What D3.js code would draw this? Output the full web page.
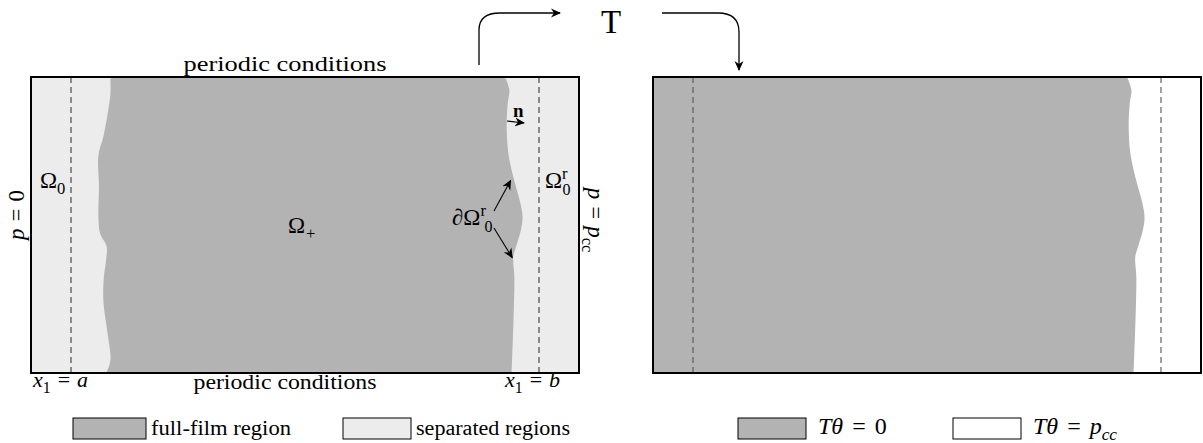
<!DOCTYPE html>
<html lang="en">
<head>
    <meta charset="UTF-8">
    <title>Full-film and separated regions</title>
    <style>
        body { margin: 0; background: #fff; }
        text { font-family: "Liberation Serif", "DejaVu Serif", serif; fill: #000; }
    </style>
</head>
<body>
    <script src="https://d3js.org/d3.v7.min.js"></script>
    <script>
        // Interface curves in panel units (x: 0 = left edge, 1 = right edge; y: 0 = top, 1 = bottom)
        const leftEdgeY  = [0, 0.055, 0.111, 0.202, 0.264, 0.371, 0.472, 0.528, 0.573, 0.618, 0.675, 0.753, 0.844, 0.922, 0.956, 0.996, 1];
        const leftEdgeX  = [0.145, 0.145, 0.141, 0.132, 0.123, 0.124, 0.123, 0.126, 0.138, 0.137, 0.133, 0.132, 0.138, 0.144, 0.145, 0.138, 0.135];
        const rightEdgeY = [0, 0.044, 0.088, 0.166, 0.257, 0.314, 0.358, 0.426, 0.473, 0.517, 0.574, 0.608, 0.676, 0.787, 0.899, 1];
        const rightEdgeX = [0.865, 0.873, 0.870, 0.868, 0.871, 0.877, 0.883, 0.893, 0.897, 0.894, 0.885, 0.880, 0.882, 0.881, 0.879, 0.877];
        const dashedX = [0.073, 0.927];   // x1 = a, x1 = b

        const width = 1203,
            height = 443,
            panelW = 548,
            panelH = 296,
            panelTop = 77,
            panelLeft = [31, 653],
            dark = "#b3b3b3",
            light = "#ececec";

        const x = d3.scaleLinear().domain([0, 1]).range([0, panelW]);
        const y = d3.scaleLinear().domain([0, 1]).range([0, panelH]);

        const leftPts = leftEdgeY.map((v, i) => [leftEdgeX[i], v]);
        const rightPts = rightEdgeY.map((v, i) => [rightEdgeX[i], v]);

        const edge = d3.line()
            .x(d => x(d[0]))
            .y(d => y(d[1]))
            .curve(d3.curveCatmullRom.alpha(0.5));

        // closed shape between two curves, built from two line strings
        function region(leftSide, rightSide) {
            const a = edge(leftSide);
            const b = edge(rightSide.slice().reverse());
            return a + "L" + b.slice(1) + "Z";
        }

        const svg = d3.select("body").append("svg")
            .attr("width", width)
            .attr("height", height);

        const defs = svg.append("defs");
        defs.append("marker")
            .attr("id", "head")
            .attr("viewBox", "0 -5 10 10")
            .attr("refX", 9)
            .attr("refY", 0)
            .attr("markerWidth", 10)
            .attr("markerHeight", 10)
            .attr("markerUnits", "userSpaceOnUse")
            .attr("orient", "auto")
            .append("path")
            .attr("d", "M0,-4.5L10,0L0,4.5L3,0Z")
            .attr("fill", "#000");

        function panel(i) {
            const g = svg.append("g").attr("transform", `translate(${panelLeft[i]},${panelTop})`);
            g.append("rect")
                .attr("width", x(1)).attr("height", y(1))
                .attr("fill", i === 0 ? light : "#fff");
            const lhs = i === 0 ? leftPts : [[0, 0], [0, 1]];
            g.append("path")
                .attr("d", region(lhs, rightPts))
                .attr("fill", dark);
            g.selectAll(".dash")
                .data(dashedX)
                .enter().append("line")
                .attr("x1", d => x(d)).attr("x2", d => x(d))
                .attr("y1", y(0)).attr("y2", y(1))
                .attr("stroke", i === 0 ? "#3a3a3a" : "#555")
                .attr("stroke-width", 1.1)
                .attr("stroke-dasharray", "6,4");
            g.append("rect")
                .attr("width", x(1)).attr("height", y(1))
                .attr("fill", "none")
                .attr("stroke", "#000")
                .attr("stroke-width", 2);
            return g;
        }

        const gl = panel(0);
        const gr = panel(1);

        // plain text, stretched to the width it has in the figure
        function plain(g, px, py, str, size, len) {
            return g.append("text")
                .attr("x", px).attr("y", py)
                .attr("text-anchor", "middle")
                .attr("textLength", len)
                .attr("lengthAdjust", "spacingAndGlyphs")
                .style("font-size", size + "px")
                .text(str);
        }

        // math label helper: parts = [text, style, dx]
        // style: "i" italic, "r" roman, "b" bold, "sub"/"subi" subscript, "sup" superscript, "back" return to baseline
        function math(g, px, py, parts, size, anchor) {
            const t = g.append("text")
                .attr("x", px).attr("y", py)
                .style("font-size", size + "px")
                .attr("text-anchor", anchor || "start");
            parts.forEach(p => {
                const s = t.append("tspan").text(p[0]);
                const st = p[1];
                if (st.endsWith("i")) s.style("font-style", "italic");
                if (st === "b") s.style("font-weight", "bold");
                if (st.startsWith("sub")) s.attr("dy", size * 0.25).style("font-size", (size * 0.72) + "px");
                if (st === "sup") s.attr("dy", -size * 0.38).style("font-size", (size * 0.72) + "px");
                if (st.startsWith("back")) s.attr("dy", -size * 0.25);
                if (p[2]) s.attr("dx", p[2]);
            });
            return t;
        }

        // left panel labels
        plain(gl, 254, -6, "periodic conditions", 22, 203);
        plain(gl, 254, 312, "periodic conditions", 21, 183);
        math(gl, 2, 310, [["x", "i"], ["1", "sub"], ["=", "back", 7], ["a", "i", 7]], 22);
        math(gl, 474, 310, [["x", "i"], ["1", "sub"], ["=", "back", 7], ["b", "i", 7]], 22);
        math(gl, 9, 111, [["Ω", "r"], ["0", "sub"]], 23);
        math(gl, 514, 111, [["Ω", "r"], ["r", "sup"]], 23);
        math(gl, 257, 156, [["Ω", "r"], ["+", "sub", 1]], 23);
        math(gl, 421, 148, [["∂Ω", "r"], ["r", "sup"]], 23);
        math(gl, 482, 40, [["n", "b"]], 19);

        // subscript 0 under the r superscripts
        math(gl, 531.5, 118, [["0", "r"]], 16);
        math(gl, 453.5, 155, [["0", "r"]], 16);

        // side labels
        math(svg.append("g").attr("transform", "translate(24,215) rotate(-90)"), 0, 0,
            [["p", "i"], ["=", "r", 7], ["0", "r", 7]], 23, "middle");
        math(svg.append("g").attr("transform", "translate(588,220) rotate(90)"), 0, 0,
            [["p", "i"], ["=", "r", 7], ["p", "i", 7], ["cc", "sub"]], 23, "middle");

        // arrows inside the left panel
        const arrow = (g, x1, y1, x2, y2) => g.append("line")
            .attr("x1", x1).attr("y1", y1).attr("x2", x2).attr("y2", y2)
            .attr("stroke", "#000").attr("stroke-width", 1.1)
            .attr("marker-end", "url(#head)");
        arrow(gl, 476, 44, 493, 46);
        arrow(gl, 463, 134, x(rightEdgeX[5]) - 1, y(0.35));
        arrow(gl, 463, 151, x(rightEdgeX[11]) - 1, y(0.61));

        // transformation arrows
        svg.append("path")
            .attr("d", "M479,65 L479,30 Q479,13 500,13 L560,13")
            .attr("fill", "none").attr("stroke", "#000").attr("stroke-width", 1.3)
            .attr("marker-end", "url(#head)");
        svg.append("path")
            .attr("d", "M662,13 L718,13 Q739,13 739,32 L739,70")
            .attr("fill", "none").attr("stroke", "#000").attr("stroke-width", 1.3)
            .attr("marker-end", "url(#head)");
        svg.append("text")
            .attr("x", 611).attr("y", 33)
            .attr("text-anchor", "middle")
            .style("font-size", "33px")
            .text("T");

        // legends
        const legendL = [{label: "full-film region", fill: dark, x: 73, w: 73, len: 140},
                         {label: "separated regions", fill: light, x: 343, w: 68, len: 154}];
        legendL.forEach(d => {
            svg.append("rect")
                .attr("x", d.x).attr("y", 418)
                .attr("width", d.w).attr("height", 21)
                .attr("fill", d.fill)
                .attr("stroke", "#000").attr("stroke-width", 1);
            plain(svg, d.x + d.w + 5 + d.len / 2, 435, d.label, 20, d.len);
        });
        const legendR = [{label: [["T", "i"], ["θ", "i"], ["=", "r", 9], ["0", "r", 9]], fill: dark, x: 738, w: 68},
                         {label: [["T", "i"], ["θ", "i"], ["=", "r", 9], ["p", "i", 9], ["cc", "subi"]], fill: "#fff", x: 953, w: 68}];
        legendR.forEach(d => {
            svg.append("rect")
                .attr("x", d.x).attr("y", 418)
                .attr("width", d.w).attr("height", 21)
                .attr("fill", d.fill)
                .attr("stroke", "#000").attr("stroke-width", 1);
            math(svg, d.x + d.w + 12, 434, d.label, 24);
        });
    </script>
</body>
</html>
